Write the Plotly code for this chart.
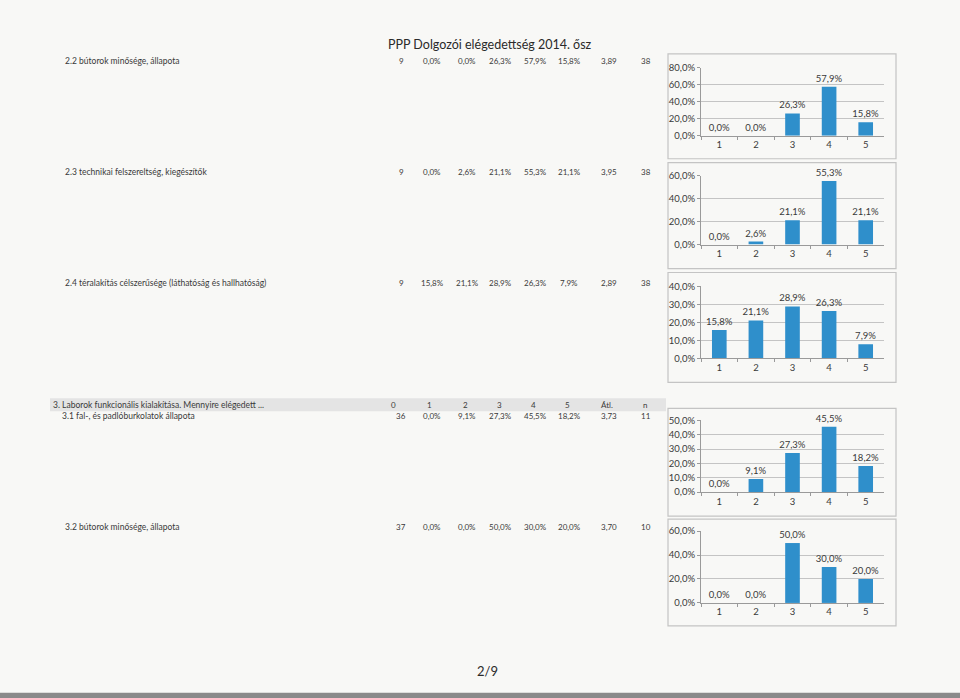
import plotly.graph_objects as go

W, H = 960, 698

# ---------------- data ----------------
categories = ["1", "2", "3", "4", "5"]
row_labels = [
    "2.2 bútorok minősége, állapota",
    "2.3 technikai felszereltség, kiegészítők",
    "2.4 téralakítás célszerűsége (láthatóság és hallhatóság)",
    "3.1 fal-, és padlóburkolatok állapota",
    "3.2 bútorok minősége, állapota",
]
zero_counts = [9, 9, 9, 36, 37]
share_2_2 = [0.000, 0.000, 0.263, 0.579, 0.158]
share_2_3 = [0.000, 0.026, 0.211, 0.553, 0.211]
share_2_4 = [0.158, 0.211, 0.289, 0.263, 0.079]
share_3_1 = [0.000, 0.091, 0.273, 0.455, 0.182]
share_3_2 = [0.000, 0.000, 0.500, 0.300, 0.200]
averages = [3.89, 3.95, 2.89, 3.73, 3.70]
n_values = [38, 38, 38, 11, 10]
y_max = [0.8, 0.6, 0.4, 0.5, 0.6]
y_step = [0.2, 0.2, 0.1, 0.1, 0.2]
title_text = "PPP Dolgozói elégedettség 2014. ősz"
section_text = "3. Laborok funkcionális kialakítása. Mennyire elégedett ..."
header_labels = ["0", "1", "2", "3", "4", "5", "Átl.", "n"]
page_text = "2/9"

series = [share_2_2, share_2_3, share_2_4, share_3_1, share_3_2]

# ---------------- layout helpers (pixel geometry) ----------------
def fx(x):
    return x / W

def fy(y):
    yc = (y - 5) / 0.986
    return 1 - yc / H

# plot area: (left, right, y of 0%, y of max)
plot_geo = [
    (701, 884, 135, 67),
    (701, 884, 244, 175),
    (701, 884, 358, 286),
    (701, 884, 492, 420),
    (701, 884, 603, 531),
]
boxes = [
    (668, 53, 896, 158),
    (668, 162, 896, 268),
    (668, 272, 896, 382),
    (668, 408, 896, 516),
    (668, 519, 896, 626),
]
row_y = [60, 171, 282, 416, 527]
row_x = [63, 63, 63, 60, 63]
col_x = [401, 432, 467, 500, 535, 569, 609, 646]
head_x = [393, 429, 465, 499, 533, 567, 607, 645]

FONT = "Lato"
TXT = "#3a3a3a"
BAR = "#2f8fcb"
GRID = "#c4c4c4"

def pct(v):
    return f"{v*100:.1f}%".replace(".", ",")

fig = go.Figure()
layout_axes = {}
for i, vals in enumerate(series):
    k = "" if i == 0 else str(i + 1)
    fig.add_trace(go.Bar(
        x=categories, y=vals, xaxis="x" + k, yaxis="y" + k,
        marker=dict(color=BAR, line=dict(width=0)),
        width=0.4,
        texttemplate="%{y:.1%}", textposition="outside", constraintext="none",
        textfont=dict(family=FONT, size=9.5, color=TXT),
        cliponaxis=False, showlegend=False, hoverinfo="skip",
    ))
    l, r, y0, y1 = plot_geo[i]
    layout_axes["xaxis" + k] = dict(
        domain=[fx(l), fx(r)], anchor="y" + k, type="category",
        showline=True, linecolor="#9a9a9a", linewidth=1,
        ticks="outside", ticklen=3, tickcolor="#9a9a9a", tickson="boundaries",
        showgrid=False, tickfont=dict(family=FONT, size=9.5, color=TXT),
        fixedrange=True,
    )
    layout_axes["yaxis" + k] = dict(
        domain=[fy(y0), fy(y1)], anchor="x" + k,
        range=[0, y_max[i]], dtick=y_step[i], tick0=0, tickformat=".1%",
        showline=True, linecolor="#9a9a9a", linewidth=1,
        ticks="outside", ticklen=3, tickcolor="#9a9a9a",
        showgrid=True, gridcolor=GRID, gridwidth=1, zeroline=False,
        tickfont=dict(family=FONT, size=9.5, color=TXT),
        fixedrange=True,
    )

shapes = []
# paper strip at the bottom
shapes.append(dict(type="rect", xref="paper", yref="paper",
                   x0=0, x1=1, y0=fy(699), y1=fy(693),
                   fillcolor="#8a8a8a", line=dict(width=0), layer="below"))
# section header band
shapes.append(dict(type="rect", xref="paper", yref="paper",
                   x0=fx(50), x1=fx(666), y0=fy(411), y1=fy(398),
                   fillcolor="#e4e4e4", line=dict(width=0), layer="below"))
# chart boxes
for (x0, y0, x1, y1) in boxes:
    shapes.append(dict(type="rect", xref="paper", yref="paper",
                       x0=fx(x0), x1=fx(x1), y0=fy(y1), y1=fy(y0),
                       line=dict(color="#c4c4c4", width=1.2),
                       fillcolor="rgba(0,0,0,0)", layer="below"))

ann = []
def text(x, y, s, size=8.5, anchor="left", color=TXT):
    ann.append(dict(xref="paper", yref="paper", x=fx(x), y=fy(y), text=s,
                    showarrow=False, xanchor=anchor, yanchor="middle",
                    font=dict(family=FONT, size=size, color=color)))

text(490, 44, title_text, size=12.5, anchor="center", color="#2a2a2a")
text(51, 405, section_text)
for j, h in enumerate(header_labels):
    text(head_x[j], 405, h, size=8, anchor="center")

for i in range(5):
    text(row_x[i], row_y[i], row_labels[i])
    cells = [str(zero_counts[i])] + [pct(v) for v in series[i]] + \
            [f"{averages[i]:.2f}".replace(".", ","), str(n_values[i])]
    for j, c in enumerate(cells):
        text(col_x[j], row_y[i], c, size=8, anchor="center")

text(487, 671, page_text, size=13, anchor="center", color="#2a2a2a")

fig.update_layout(
    width=W, height=H, margin=dict(l=0, r=0, t=0, b=0),
    paper_bgcolor="#f8f8f6", plot_bgcolor="rgba(0,0,0,0)",
    separators=", ", shapes=shapes, annotations=ann,
    bargap=0.6, **layout_axes,
)
fig.write_html("out.html")
